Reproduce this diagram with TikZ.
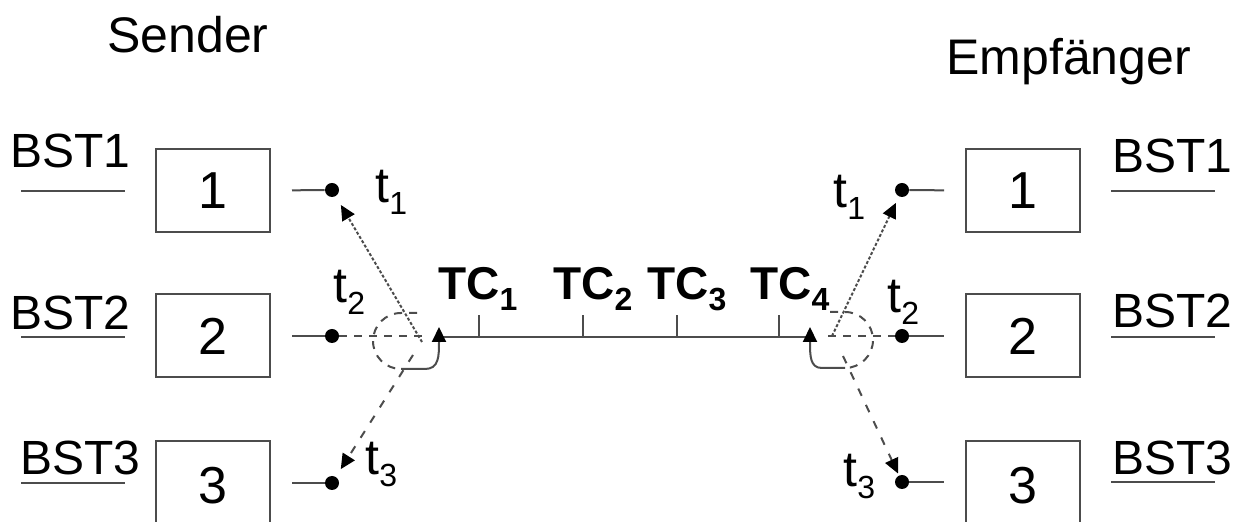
\documentclass[tikz,border=0pt]{standalone}
\usepackage{fontspec}
\setmainfont{Liberation Sans}
\usetikzlibrary{arrows.meta}
\newcommand{\lowsub}[2][-5.5pt]{\raisebox{#1}{\fontsize{16}{16}\selectfont #2}}
\begin{document}
\begin{tikzpicture}[x=0.5pt,y=-0.5pt,
  ln/.style={draw=black!70, line width=1pt},
  box/.style={draw=black!70, line width=1pt, minimum width=57pt, minimum height=41.5pt, inner sep=0pt, font=\fontsize{26}{26}\selectfont},
  dot/.style={circle, fill=black, inner sep=0pt, minimum size=7pt},
  lbl/.style={anchor=base west, inner sep=0pt, font=\fontsize{24}{24}\selectfont},
  head/.style={anchor=base west, inner sep=0pt, font=\fontsize{25}{25}\selectfont},
  tlab/.style={anchor=base west, inner sep=0pt, font=\fontsize{25}{25}\selectfont},
  tclab/.style={anchor=base west, inner sep=0pt, font=\fontsize{23}{23}\selectfont\bfseries},
  tipend/.style={-{Triangle[length=7.5pt,width=7pt,color=black]}},
  fined/.style={dash pattern=on 1.5pt off 1pt},
  longd/.style={dash pattern=on 4pt off 5pt},
  midd/.style={dash pattern=on 4pt off 3.5pt},
]
\useasboundingbox (0,0) rectangle (1252,522);

% headers
\node[head] (send) at (107,53) {Sender};
\node[head] (empf) at (946,75) {Empfänger};

% boxes
\node[box] (L1) at (213,190.5) {1};
\node[box] (L2) at (213,336) {2};
\node[box, minimum height=45pt] (L3) at (213,486) {3};
\node[box] (R1) at (1023,190.5) {1};
\node[box] (R2) at (1023,336) {2};
\node[box, minimum height=45pt] (R3) at (1023,486) {3};

% BST labels and underlines
\node[lbl] (bL1) at (10,168) {BST1};
\node[lbl] (bL2) at (10,330) {BST2};
\node[lbl] (bL3) at (20,475) {BST3};
\node[lbl] (bR1) at (1112,173) {BST1};
\node[lbl] (bR2) at (1112,328) {BST2};
\node[lbl] (bR3) at (1112,475) {BST3};
\draw[ln] (21,191) -- (125,191);
\draw[ln] (21,337) -- (125,337);
\draw[ln] (21,483) -- (125,483);
\draw[ln] (1111,191) -- (1215,191);
\draw[ln] (1111,337) -- (1215,337);
\draw[ln] (1111,482) -- (1215,482);

% dots
\node[dot] (d1L) at (332,190) {};
\node[dot] (d2L) at (332,336) {};
\node[dot] (d3L) at (332,483) {};
\node[dot] (d1R) at (902,190) {};
\node[dot] (d2R) at (902,336) {};
\node[dot] (d3R) at (902,482) {};

% stubs
\draw[ln, shorten <=10.5pt] (L1.east) -- (d1L);
\draw[ln, shorten <=10.5pt] (L2.east) -- (d2L);
\draw[ln, shorten <=10.5pt] (L3.east |- d3L) -- (d3L);
\draw[ln, shorten >=10.5pt] (d1R) -- (R1.west);
\draw[ln, shorten >=10.5pt] (d2R) -- (R2.west);
\draw[ln, shorten >=10.5pt] (d3R) -- (R3.west |- d3R);

% t labels
\node[tlab] (tL1) at (375,203) {t\lowsub[-6pt]{1}};
\node[tlab] (tL2) at (333,303) {t\lowsub[-6pt]{2}};
\node[tlab] (tL3) at (365,475) {t\lowsub[-6pt]{3}};
\node[tlab] (tR1) at (833,208) {t\lowsub[-6pt]{1}};
\node[tlab] (tR2) at (887,313) {t\lowsub[-6pt]{2}};
\node[tlab] (tR3) at (843,487) {t\lowsub[-6pt]{3}};

% TC labels
\node[tclab] (tc1) at (438,300) {TC\lowsub{1}};
\node[tclab] (tc2) at (553,300) {TC\lowsub{2}};
\node[tclab] (tc3) at (647,300) {TC\lowsub{3}};
\node[tclab] (tc4) at (750,300) {TC\lowsub{4}};

% timeline
\coordinate (tlA) at (440,337);
\coordinate (tlB) at (808,337);
\draw[ln] (tlA) -- (tlB);
\foreach \xx in {479,583,677,779} \draw[ln] (\xx,337) -- (\xx,315);

% dashed horizontal segments
\coordinate (hL) at (428,336);
\coordinate (hR) at (828,336);
\draw[ln, midd] (d2L) -- (hL);
\draw[ln, midd] (hR) -- (d2R);

% rotation loops
\draw[ln, midd] (417,313) -- (401,313) arc[start angle=270, end angle=90, radius=28];
\draw[ln, tipend] (401,369) -- (425,369) .. controls (439,369) and (439,356) .. (439,327);
\draw[ln, midd] (830,312) -- (845,312) arc[start angle=-90, end angle=90, radius=28];
\draw[ln, tipend] (845,368) -- (822,368) .. controls (810,368) and (810,356) .. (810,327);

% switching arrows
\coordinate (aL1) at (422,342);
\coordinate (aL3) at (413,355);
\coordinate (aR1) at (832,336);
\coordinate (aR3) at (843,356);
\draw[ln, fined, tipend, shorten >=5pt] (aL1) -- (d1L);
\draw[ln, longd, tipend, shorten >=4.5pt] (aL3) -- (d3L);
\draw[ln, fined, tipend, shorten >=3.5pt] (aR1) -- (d1R);
\draw[ln, longd, tipend, shorten >=1pt] (aR3) -- (d3R);
\end{tikzpicture}
\end{document}
